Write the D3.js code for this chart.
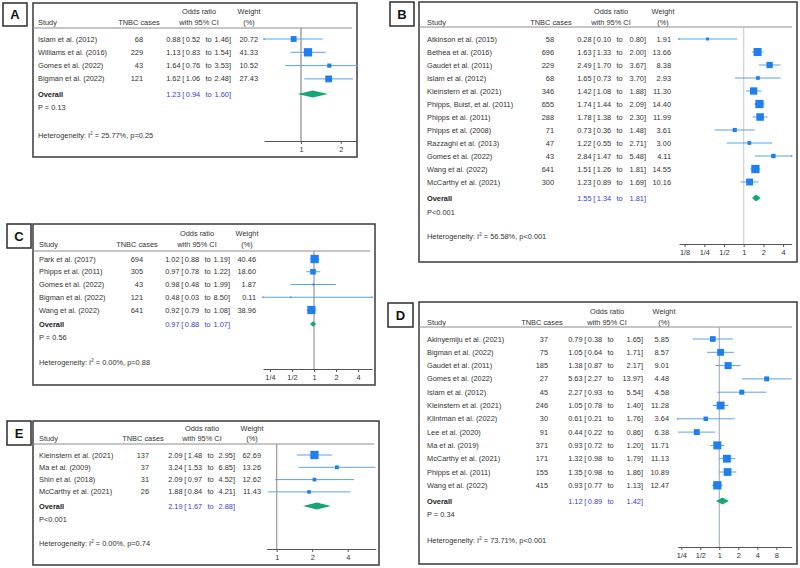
<!DOCTYPE html>
<html><head><meta charset="utf-8">
<script src="https://cdn.jsdelivr.net/npm/d3@7"></script>
<style>html,body{margin:0;padding:0;background:#fff;}</style>
</head><body><svg id="c" width="800" height="568"></svg>
<script>
// ---------- DATA ----------
const studiesA = ["Islam et al. (2012)","Williams et al. (2016)","Gomes et al. (2022)","Bigman et al. (2022)"];
const casesA   = [68,229,43,121];
const orA      = [0.88,1.13,1.64,1.62];
const loA      = [0.52,0.83,0.76,1.06];
const hiA      = [1.46,1.54,3.53,2.48];
const weightA  = [20.72,41.33,10.52,27.43];
const overallA = [1.23,0.94,1.60];
const pTextA   = "P = 0.13";
const hetA     = ["25.77%","p=0.25"];
const ticksA   = [1,2];
const tickLabelsA = ["1","2"];

const studiesB = ["Atkinson et al. (2015)","Bethea et al. (2016)","Gaudet et al. (2011)","Islam et al. (2012)","Kleinstern et al. (2021)","Phipps, Buist, et al. (2011)","Phipps et al. (2011)","Phipps et al. (2008)","Razzaghi et al. (2013)","Gomes et al. (2022)","Wang et al. (2022)","McCarthy et al. (2021)"];
const casesB   = [58,696,229,68,346,655,288,71,47,43,641,300];
const orB      = [0.28,1.63,2.49,1.65,1.42,1.74,1.78,0.73,1.22,2.84,1.51,1.23];
const loB      = [0.10,1.33,1.70,0.73,1.08,1.44,1.38,0.36,0.55,1.47,1.26,0.89];
const hiB      = [0.80,2.00,3.67,3.70,1.88,2.09,2.30,1.48,2.71,5.48,1.81,1.69];
const weightB  = [1.91,13.66,8.38,2.93,11.30,14.40,11.99,3.61,3.00,4.11,14.55,10.16];
const overallB = [1.55,1.34,1.81];
const pTextB   = "P<0.001";
const hetB     = ["56.58%","p<0.001"];
const ticksB   = [0.125,0.25,0.5,1,2,4];
const tickLabelsB = ["1/8","1/4","1/2","1","2","4"];

const studiesC = ["Park et al. (2017)","Phipps et al. (2011)","Gomes et al. (2022)","Bigman et al. (2022)","Wang et al. (2022)"];
const casesC   = [694,305,43,121,641];
const orC      = [1.02,0.97,0.98,0.48,0.92];
const loC      = [0.88,0.78,0.48,0.03,0.79];
const hiC      = [1.19,1.22,1.99,8.50,1.08];
const weightC  = [40.46,18.60,1.87,0.11,38.96];
const overallC = [0.97,0.88,1.07];
const pTextC   = "P = 0.56";
const hetC     = ["0.00%","p=0.88"];
const ticksC   = [0.25,0.5,1,2,4];
const tickLabelsC = ["1/4","1/2","1","2","4"];

const studiesD = ["Akinyemiju et al. (2021)","Bigman et al. (2022)","Gaudet et al. (2011)","Gomes et al. (2022)","Islam et al. (2012)","Kleinstern et al. (2021)","Klintman et al. (2022)","Lee et al. (2020)","Ma et al. (2019)","McCarthy et al. (2021)","Phipps et al. (2011)","Wang et al. (2022)"];
const casesD   = [37,75,185,27,45,246,30,91,371,171,155,415];
const orD      = [0.79,1.05,1.38,5.63,2.27,1.05,0.61,0.44,0.93,1.32,1.35,0.93];
const loD      = [0.38,0.64,0.87,2.27,0.93,0.78,0.21,0.22,0.72,0.98,0.98,0.77];
const hiD      = [1.65,1.71,2.17,13.97,5.54,1.40,1.76,0.86,1.20,1.79,1.86,1.13];
const weightD  = [5.85,8.57,9.01,4.48,4.58,11.28,3.64,6.38,11.71,11.13,10.89,12.47];
const overallD = [1.12,0.89,1.42];
const pTextD   = "P = 0.34";
const hetD     = ["73.71%","p<0.001"];
const ticksD   = [0.25,0.5,1,2,4,8];
const tickLabelsD = ["1/4","1/2","1","2","4","8"];

const studiesE = ["Kleinstern et al. (2021)","Ma et al. (2009)","Shin et al. (2018)","McCarthy et al. (2021)"];
const casesE   = [137,37,31,26];
const orE      = [2.09,3.24,2.09,1.88];
const loE      = [1.48,1.53,0.97,0.84];
const hiE      = [2.95,6.85,4.52,4.21];
const weightE  = [62.69,13.26,12.62,11.43];
const overallE = [2.19,1.67,2.88];
const pTextE   = "P<0.001";
const hetE     = ["0.00%","p=0.74"];
const ticksE   = [1,2,4];
const tickLabelsE = ["1","2","4"];

// ---------- LAYOUT ----------
const layouts = {
  A:{label:[3,3,27,26], box:[33,3,357,157], h1:11,h2:22,hl:28,row0:39,step:13.3,ov:94,p:107,het:135,ax:141,
     studyX:38,casesR:143,casesC:139,orX:166,orC:199,orHi:63,wR:258,wC:249,axL:264,axR:357,one:301,per:39.7,ref:"#8a8a8a"},
  B:{label:[390,2,414,26], box:[419,2,797,262], h1:11,h2:22,hl:27,row0:39,step:13.0,ov:198,p:212,het:236,ax:244,
     studyX:427,casesR:554,casesC:551,orX:577,orC:611,orHi:67,wR:671,wC:663,axL:679,axR:791.7,one:743.7,per:19.7,ref:"#cfcfcf"},
  C:{label:[7,224,31,248], box:[33,224,375,385], h1:233,h2:244,hl:251,row0:259,step:12.75,ov:324,p:337,het:362,ax:369,
     studyX:39,casesR:143,casesC:137,orX:165,orC:197,orHi:63,wR:256,wC:247,axL:263,axR:372,one:314,per:22,ref:"#9a9a9a"},
  D:{label:[388,303,413,327], box:[419,302,797,564], h1:311,h2:322,hl:327,row0:339,step:13.3,ov:501,p:514,het:540,ax:547,
     studyX:427,casesR:548,casesC:542,orX:568,orC:607,orHi:73,wR:669,wC:664,axL:677.7,axR:791.7,one:719.3,per:19,ref:"#a9b3c0"},
  E:{label:[7,421,31,445], box:[33,421,379,565], h1:428,h2:438,hl:444,row0:455,step:12.3,ov:506,p:519,het:543,ax:549,
     studyX:39,casesR:149,casesC:143,orX:168,orC:202,orHi:65,wR:261,wC:252,axL:266.7,axR:375.7,one:276.7,per:35.5,ref:"#9a9a9a"}
};

const panels = [
  {id:"A",studies:studiesA,cases:casesA,or:orA,lo:loA,hi:hiA,w:weightA,overall:overallA,p:pTextA,het:hetA,ticks:ticksA,tl:tickLabelsA},
  {id:"B",studies:studiesB,cases:casesB,or:orB,lo:loB,hi:hiB,w:weightB,overall:overallB,p:pTextB,het:hetB,ticks:ticksB,tl:tickLabelsB},
  {id:"C",studies:studiesC,cases:casesC,or:orC,lo:loC,hi:hiC,w:weightC,overall:overallC,p:pTextC,het:hetC,ticks:ticksC,tl:tickLabelsC},
  {id:"D",studies:studiesD,cases:casesD,or:orD,lo:loD,hi:hiD,w:weightD,overall:overallD,p:pTextD,het:hetD,ticks:ticksD,tl:tickLabelsD},
  {id:"E",studies:studiesE,cases:casesE,or:orE,lo:loE,hi:hiE,w:weightE,overall:overallE,p:pTextE,het:hetE,ticks:ticksE,tl:tickLabelsE}
];

// ---------- DRAW ----------
const FONT = "'Liberation Sans', Arial, Helvetica, sans-serif";
const FS = 7.4;
const TXT = "#333";
const SQ = "#1f7ff0", CI = "#5aa3e8", DIA = "#17a673", OVT = "#3c3ccc";
const svg = d3.select("#c").style("font-family", FONT);

function txt(g, x, y, s, anchor, opts={}) {
  return g.append("text").attr("x", x).attr("y", y).attr("dy", "0.35em")
    .attr("text-anchor", anchor || "start").attr("font-size", opts.fs || FS)
    .attr("font-weight", opts.bold ? "bold" : "normal")
    .attr("fill", opts.fill || TXT).text(s);
}

function orText(g, L, y, est, lo, hi, fill) {
  const x = L.orX;
  txt(g, x + 14.6, y, est.toFixed(2), "end", {fill});
  txt(g, x + 16.3, y, "[", "start", {fill});
  txt(g, x + 34.2, y, lo.toFixed(2), "end", {fill});
  txt(g, x + 39.5, y, "to", "start", {fill});
  txt(g, x + L.orHi, y, hi.toFixed(2) + "]", "end", {fill}).attr("dx", 2);
}

panels.forEach(P => {
  const L = layouts[P.id];
  const g = svg.append("g");
  // scale from pixel layout
  const dom = [Math.pow(2, (L.axL - L.one) / L.per), Math.pow(2, (L.axR - L.one) / L.per)];
  const x = d3.scaleLog().base(2).domain(dom).range([L.axL, L.axR]);

  // label box
  const lb = L.label;
  g.append("rect").attr("x", lb[0]).attr("y", lb[1]).attr("width", lb[2]-lb[0]).attr("height", lb[3]-lb[1])
    .attr("fill", "#fff").attr("stroke", "#2b2b2b").attr("stroke-width", 1.5);
  g.append("text").attr("x", (lb[0]+lb[2])/2).attr("y", (lb[1]+lb[3])/2).attr("dy","0.36em")
    .attr("text-anchor","middle").attr("font-size", 13).attr("font-weight","bold").attr("fill","#111").text(P.id);

  // main box
  const b = L.box;
  g.append("rect").attr("x", b[0]).attr("y", b[1]).attr("width", b[2]-b[0]).attr("height", b[3]-b[1])
    .attr("fill", "#fff").attr("stroke", "#3a3a3a").attr("stroke-width", 1.5);

  // headers
  txt(g, L.studyX, L.h2, "Study");
  txt(g, L.casesC, L.h2, "TNBC cases", "middle");
  txt(g, L.orC, L.h1, "Odds ratio", "middle");
  txt(g, L.orC, L.h2, "with 95% CI", "middle");
  txt(g, L.wC, L.h1, "Weight", "middle");
  txt(g, L.wC, L.h2, "(%)", "middle");
  g.append("line").attr("x1", b[0]).attr("x2", b[2]-5).attr("y1", L.hl).attr("y2", L.hl)
    .attr("stroke", "#8c8c8c").attr("stroke-width", 1);

  // reference line at OR = 1
  g.append("line").attr("x1", x(1)).attr("x2", x(1)).attr("y1", L.hl).attr("y2", L.ax)
    .attr("stroke", L.ref).attr("stroke-width", 1.2);

  const maxW = d3.max(P.w);
  const MAXS = 8.3;
  P.studies.forEach((s, i) => {
    const y = L.row0 + i * L.step;
    txt(g, L.studyX, y, s);
    txt(g, L.casesR, y, String(P.cases[i]), "end");
    orText(g, L, y, P.or[i], P.lo[i], P.hi[i], TXT);
    txt(g, L.wR, y, P.w[i].toFixed(2), "end");
    const x1 = Math.max(L.axL, x(P.lo[i])), x2 = Math.min(L.axR, x(P.hi[i]));
    g.append("line").attr("x1", x1).attr("x2", x2).attr("y1", y).attr("y2", y)
      .attr("stroke", CI).attr("stroke-width", 1);
    if (x(P.lo[i]) < L.axL) g.append("circle").attr("cx", L.axL).attr("cy", y).attr("r", 0.9).attr("fill", CI);
    if (x(P.hi[i]) > L.axR) g.append("circle").attr("cx", L.axR).attr("cy", y).attr("r", 0.9).attr("fill", CI);
    const sz = Math.max(1.4, MAXS * Math.sqrt(P.w[i] / maxW));
    g.append("rect").attr("x", x(P.or[i]) - sz/2).attr("y", y - sz/2).attr("width", sz).attr("height", sz)
      .attr("fill", SQ);
  });

  // overall
  txt(g, L.studyX, L.ov, "Overall", "start", {bold:true, fill:"#222"});
  orText(g, L, L.ov, P.overall[0], P.overall[1], P.overall[2], OVT);
  const dl = x(P.overall[1]), dr = x(P.overall[2]), dc = x(P.overall[0]);
  const dh = Math.min(7, (dr - dl) * 0.9) / 2;
  g.append("path").attr("d", `M${dl},${L.ov} L${dc},${L.ov-dh} L${dr},${L.ov} L${dc},${L.ov+dh} Z`)
    .attr("fill", DIA);

  txt(g, L.studyX, L.p, P.p);
  const ht = g.append("text").attr("x", L.studyX).attr("y", L.het).attr("dy","0.35em")
    .attr("font-size", FS).attr("fill", TXT);
  ht.append("tspan").text("Heterogeneity: I");
  ht.append("tspan").attr("font-size", 4.5).attr("dy", -3).text("2");
  ht.append("tspan").attr("dy", 3).text(" = " + P.het[0] + ", " + P.het[1]);

  // axis
  const axis = d3.axisBottom(x).tickValues(P.ticks).tickFormat((d, i) => P.tl[i])
    .tickSizeInner(3).tickSizeOuter(0).tickPadding(2.5);
  const ag = g.append("g").attr("transform", `translate(0,${L.ax})`).call(axis);
  ag.select(".domain").attr("stroke", "#555").attr("stroke-width", 1);
  ag.selectAll(".tick line").attr("stroke", "#555");
  ag.selectAll(".tick text").attr("font-size", FS).attr("fill", TXT).attr("font-family", FONT);
});
</script>
</body></html>
